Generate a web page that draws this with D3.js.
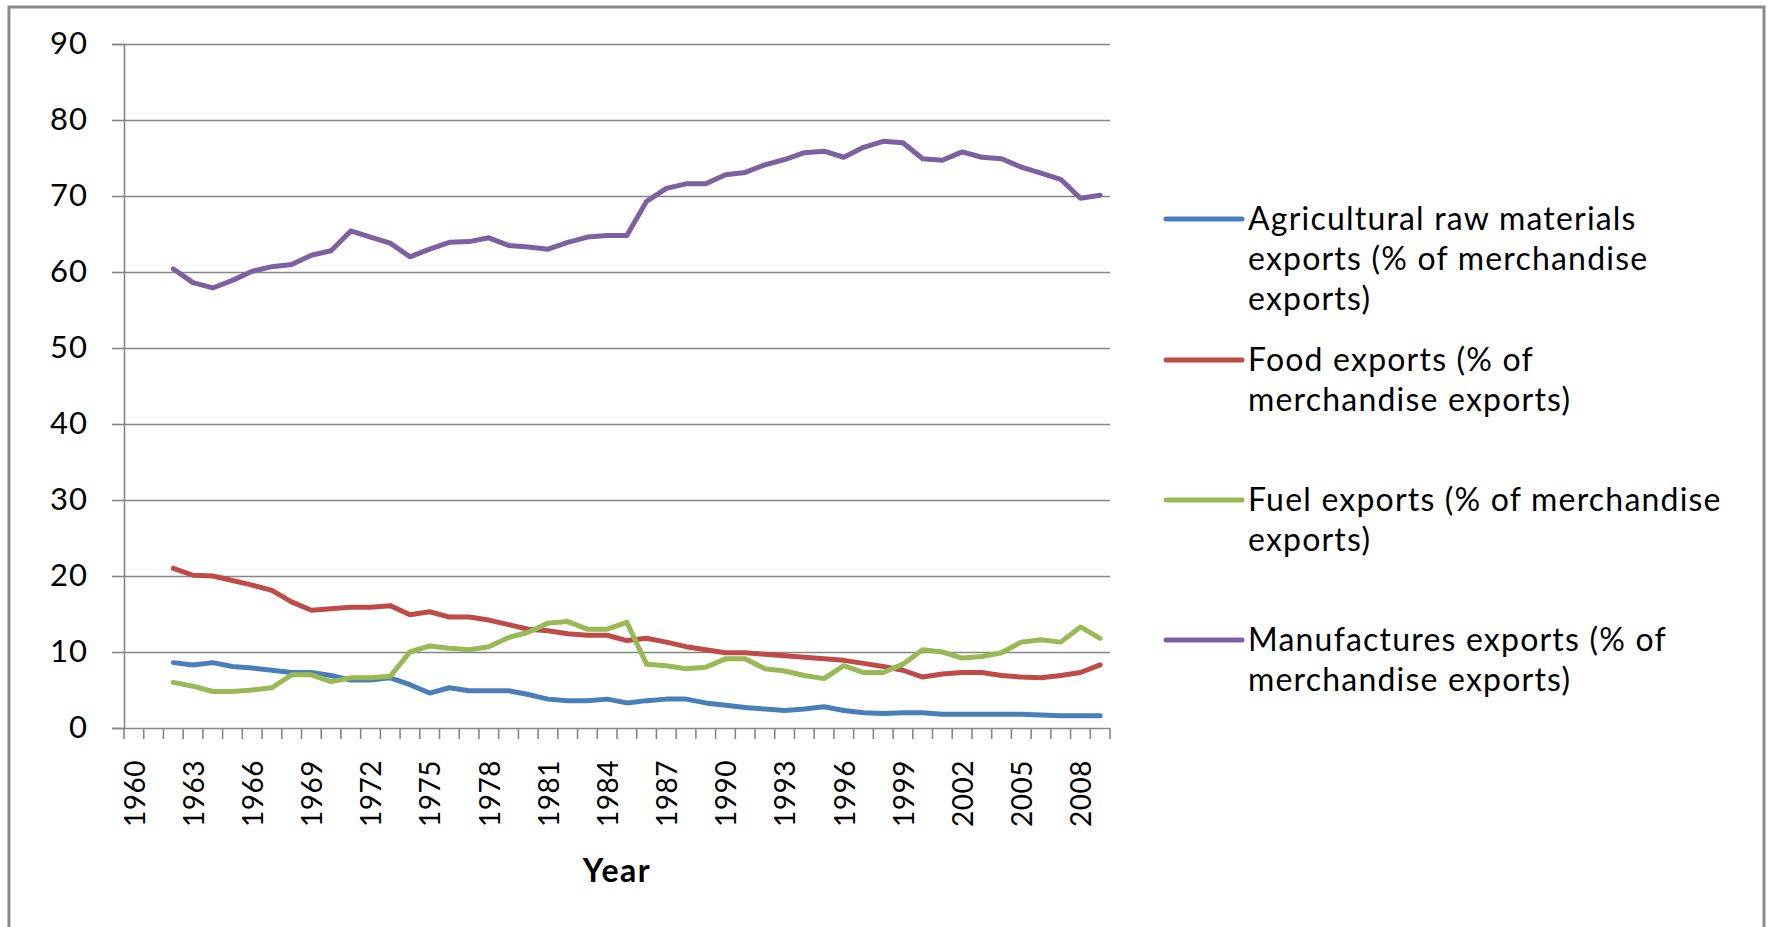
<!DOCTYPE html>
<html>
<head>
<meta charset="utf-8">
<script src="https://cdn.jsdelivr.net/npm/d3@7"></script>
<style>
  html, body { margin: 0; padding: 0; background: #fff; }
  svg { display: block; }
  text { font-family: Lato, "Open Sans", sans-serif; fill: #000; }
</style>
</head>
<body>
<svg id="chart" width="1768" height="927"></svg>
<script>
const years = [1960,1961,1962,1963,1964,1965,1966,1967,1968,1969,
  1970,1971,1972,1973,1974,1975,1976,1977,1978,1979,
  1980,1981,1982,1983,1984,1985,1986,1987,1988,1989,
  1990,1991,1992,1993,1994,1995,1996,1997,1998,1999,
  2000,2001,2002,2003,2004,2005,2006,2007,2008,2009];

const agriValues = [null,null,
  8.6,8.3,8.6,8.1,7.9,7.6,7.3,7.3,6.9,6.3,
  6.3,6.6,5.7,4.6,5.3,4.9,4.9,4.9,4.4,3.8,
  3.6,3.6,3.8,3.3,3.6,3.8,3.8,3.3,3.0,2.7,
  2.5,2.3,2.5,2.8,2.3,2.0,1.9,2.0,2.0,1.8,
  1.8,1.8,1.8,1.8,1.7,1.6,1.6,1.6];

const foodValues = [null,null,
  21.0,20.1,20.0,19.4,18.8,18.1,16.6,15.5,15.7,15.9,
  15.9,16.1,14.9,15.3,14.6,14.6,14.2,13.6,13.0,12.8,
  12.4,12.2,12.2,11.5,11.8,11.3,10.7,10.3,9.9,9.9,
  9.7,9.5,9.3,9.1,8.9,8.5,8.1,7.6,6.7,7.1,
  7.3,7.3,6.9,6.7,6.6,6.9,7.3,8.3];

const fuelValues = [null,null,
  6.0,5.5,4.8,4.8,5.0,5.3,7.0,7.0,6.1,6.6,
  6.6,6.8,10.0,10.8,10.5,10.3,10.7,11.9,12.6,13.8,
  14.0,13.0,13.0,13.9,8.4,8.2,7.8,8.0,9.1,9.1,
  7.8,7.5,6.9,6.5,8.2,7.3,7.3,8.4,10.3,10.0,
  9.2,9.4,9.9,11.3,11.6,11.3,13.3,11.8];

const manufValues = [null,null,
  60.4,58.6,57.9,58.9,60.1,60.7,61.0,62.2,62.8,65.4,
  64.6,63.8,62.0,63.0,63.9,64.0,64.5,63.5,63.3,63.0,
  63.9,64.6,64.8,64.8,69.3,71.0,71.6,71.6,72.8,73.1,
  74.1,74.8,75.7,75.9,75.1,76.4,77.2,77.0,74.9,74.7,
  75.8,75.1,74.9,73.8,73.0,72.2,69.7,70.1];

const seriesNames = [
  ["Agricultural raw materials", "exports (% of merchandise", "exports)"],
  ["Food exports (% of", "merchandise exports)"],
  ["Fuel exports (% of merchandise", "exports)"],
  ["Manufactures exports (% of", "merchandise exports)"]
];
const seriesColors = ["#4A7EBB", "#BE4B48", "#98B954", "#7D60A0"];
const yTicks = [0,10,20,30,40,50,60,70,80,90];
const xTickLabels = [1960,1963,1966,1969,1972,1975,1978,1981,1984,1987,1990,1993,1996,1999,2002,2005,2008];
const xTitle = "Year";

const seriesValues = [agriValues, foodValues, fuelValues, manufValues];

const svg = d3.select("#chart");

// outer chart frame
svg.append("rect")
  .attr("x", 9).attr("y", 7)
  .attr("width", 1755).attr("height", 960)
  .attr("fill", "#fff")
  .attr("stroke", "#8a8a8a")
  .attr("stroke-width", 3);

const plot = { left: 124, right: 1110, top: 44, bottom: 728 };

const x = d3.scaleBand().domain(years).range([plot.left, plot.right]).padding(0);
const y = d3.scaleLinear().domain([0, 90]).range([plot.bottom, plot.top]);

const gridColor = "#868686";

// Y axis with gridlines
const yAxis = d3.axisLeft(y).tickValues(yTicks).tickSize(12).tickPadding(24)
  .tickFormat(d3.format("d"));
const gy = svg.append("g").attr("transform", `translate(${plot.left},0)`).call(yAxis);
gy.select(".domain").attr("stroke", gridColor).attr("stroke-width", 1.6);
gy.selectAll(".tick line").attr("stroke", gridColor).attr("stroke-width", 1.6);
gy.selectAll(".tick text")
  .attr("font-size", 31)
  .attr("letter-spacing", "1px")
  .attr("font-family", "Lato, sans-serif")
  .attr("fill", "#000");

gy.selectAll(".tick").append("line")
  .attr("x1", 0).attr("x2", plot.right - plot.left)
  .attr("stroke", gridColor).attr("stroke-width", 1.6);

// X axis: ticks between categories
const boundaries = years.map(yr => x(yr)).concat([x(years[years.length - 1]) + x.bandwidth()]);
const gx = svg.append("g");
gx.selectAll("line.xt").data(boundaries).join("line")
  .attr("class", "xt")
  .attr("x1", d => d).attr("x2", d => d)
  .attr("y1", plot.bottom).attr("y2", plot.bottom + 11)
  .attr("stroke", gridColor).attr("stroke-width", 1.6);

gx.selectAll("text.xl").data(xTickLabels).join("text")
  .attr("class", "xl")
  .attr("transform", d => `translate(${x(d) + x.bandwidth() / 2 + 1},760) rotate(-90)`)
  .attr("dy", "0.35em")
  .attr("text-anchor", "end")
  .attr("font-size", 28)
  .attr("letter-spacing", "0.5px")
  .text(d => d);

svg.append("text")
  .attr("x", (plot.left + plot.right) / 2)
  .attr("y", 882)
  .attr("text-anchor", "middle")
  .attr("font-size", 32)
  .attr("letter-spacing", "1.5px")
  .attr("font-weight", "bold")
  .text(xTitle);

// Lines
const line = d3.line()
  .defined(d => d.v !== null)
  .x(d => x(d.year) + x.bandwidth() / 2)
  .y(d => y(d.v));

seriesValues.forEach((vals, i) => {
  const data = years.map((yr, j) => ({ year: yr, v: vals[j] }));
  svg.append("path")
    .datum(data)
    .attr("d", line)
    .attr("fill", "none")
    .attr("stroke", seriesColors[i])
    .attr("stroke-width", 5)
    .attr("stroke-linejoin", "round")
    .attr("stroke-linecap", "round");
});

// Legend
const legendY = [219, 360, 500, 640];
const lg = svg.append("g");
seriesNames.forEach((lines, i) => {
  const g = lg.append("g").attr("transform", `translate(0,${legendY[i]})`);
  g.append("line")
    .attr("x1", 1166).attr("x2", 1242)
    .attr("y1", 0).attr("y2", 0)
    .attr("stroke", seriesColors[i])
    .attr("stroke-width", 5)
    .attr("stroke-linecap", "round");
  lines.forEach((t, k) => {
    g.append("text")
      .attr("x", 1248)
      .attr("y", 11 + k * 40)
      .attr("font-size", 32)
      .attr("letter-spacing", "1.2px")
      .text(t);
  });
});
</script>
</body>
</html>
